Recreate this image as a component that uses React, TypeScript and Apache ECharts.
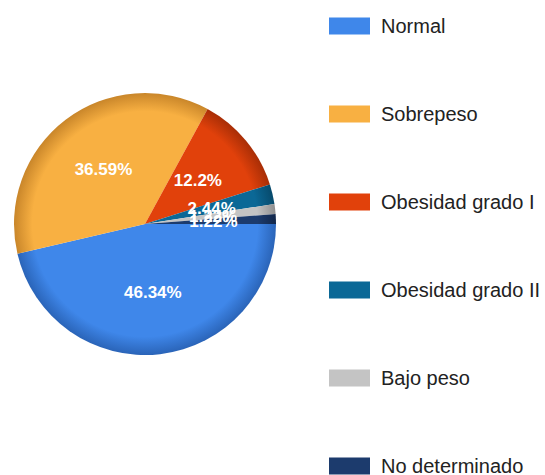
import React, { useEffect, useRef } from "react";
import * as echarts from "echarts";

const categories = ["Normal", "Sobrepeso", "Obesidad grado I", "Obesidad grado II", "Bajo peso", "No determinado"];
const counts = [38, 30, 10, 2, 1, 1];
const colors = ["#3f87ea", "#f8b042", "#e1410b", "#0b6896", "#c4c4c4", "#1c3b6d"];
const darkColors = ["#2a64b8", "#c9862a", "#a82e06", "#074a6c", "#8f8f8f", "#12274a"];

export default function App() {
  const ref = useRef<HTMLDivElement>(null);
  useEffect(() => {
    document.body.style.margin = "0";
    const chart = echarts.init(ref.current!, null, { renderer: "svg" });
    const cx = 145, cy = 224, r = 131;
    const total = counts.reduce((a, b) => a + b, 0);
    chart.setOption({
      animation: false,
      legend: {
        orient: "vertical",
        left: 329,
        top: 16,
        height: 600,
        padding: 0,
        itemWidth: 41,
        itemHeight: 17,
        itemGap: 68,
        icon: "rect",
        textStyle: { fontSize: 20, lineHeight: 17, color: "#222", fontFamily: "Liberation Sans, Arial", padding: [0, 0, 0, 6] },
        data: categories.map((name, i) => ({ name, itemStyle: { color: colors[i] } })),
      },
      series: [
        {
          type: "pie",
          center: [cx, cy],
          radius: [0, r],
          startAngle: 0,
          clockwise: true,
          labelLayout: { hideOverlap: false },
          label: {
            show: true,
            position: "inside",
            color: "#fff",
            fontWeight: "bold",
            fontSize: 17,
            fontFamily: "Liberation Sans, Arial",
            formatter: (p: any) => `${Math.round((p.value / total) * 10000) / 100}%`,
          },
          labelLine: { show: false },
          emphasis: { disabled: true },
          itemStyle: { borderWidth: 0 },
          data: categories.map((name, i) => ({
            name,
            value: counts[i],
            itemStyle: {
              color: new echarts.graphic.RadialGradient(cx, cy, r, [
                { offset: 0, color: colors[i] },
                { offset: 0.86, color: colors[i] },
                { offset: 1, color: darkColors[i] },
              ], true),
            },
          })),
        },
      ],
      color: colors,
    });
    return () => chart.dispose();
  }, []);
  return <div ref={ref} style={{ width: 545, height: 475 }} />;
}
